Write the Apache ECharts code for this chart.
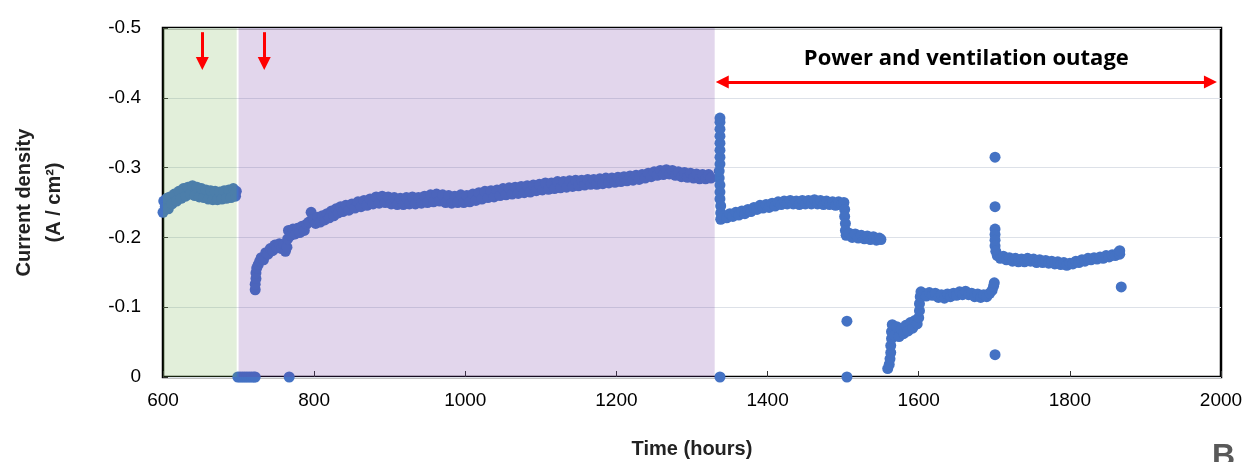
<!DOCTYPE html>
<html>
<head>
<meta charset="utf-8">
<script src="https://cdn.jsdelivr.net/npm/echarts@6/dist/echarts.min.js"></script>
<style>
  html, body { margin: 0; padding: 0; background: #fff; }
  #chart { width: 1250px; height: 462px; }
</style>
</head>
<body>
<div id="chart"></div>
<script>
// x ticks (hours) and y ticks (A/cm2)
var xTicks = [600, 800, 1000, 1200, 1400, 1600, 1800, 2000];
var yTicks = [-0.5, -0.4, -0.3, -0.2, -0.1, 0];

// shaded phases [start, end] in hours
var greenPhase = [600, 697.5];
var purplePhase = [700, 1330];
var outageSpan = [1340, 1986];
var arrowHours = [652, 734];

// [hours, current density]
var greenPts = [
  [600,-0.236],[601,-0.252],[603,-0.244],[605,-0.256],[607,-0.241],[609,-0.258],[612,-0.248],[615,-0.262],
  [618,-0.252],[621,-0.266],[624,-0.256],[627,-0.270],[630,-0.259],[633,-0.272],[636,-0.262],[639,-0.274],
  [642,-0.260],[645,-0.272],[648,-0.258],[651,-0.270],[654,-0.257],[657,-0.268],[660,-0.255],[663,-0.267],
  [666,-0.254],[669,-0.266],[672,-0.254],[675,-0.265],[678,-0.255],[681,-0.267],[684,-0.256],[687,-0.268],
  [690,-0.257],[693,-0.270],[696,-0.259],[697,-0.266]
];

var zeroPts = [
  [699,0],[702,0],[705,0],[708,0],[711,0],[714,0],[717,0],[720,0],[722,0],[767,0],
  [1337,0],[1505,0]
];

var purplePts = [
  [722,-0.125],[722,-0.133],[723,-0.141],[723,-0.149],[724,-0.156],[726,-0.161],[728,-0.166],[730,-0.171],
  [733,-0.168],[736,-0.178],[739,-0.176],[742,-0.184],[745,-0.181],[748,-0.189],[751,-0.185],[754,-0.191],
  [757,-0.184],[760,-0.190],[762,-0.180],[764,-0.186],[765,-0.198],[766,-0.210],[769,-0.203],[772,-0.212],
  [775,-0.205],[778,-0.213],[781,-0.207],[784,-0.216],[787,-0.210],[790,-0.219],[793,-0.222],[796,-0.236],
  [799,-0.226],[802,-0.220],[805,-0.229],[808,-0.222],[811,-0.231],[814,-0.225],[817,-0.234],[820,-0.228],
  [823,-0.238],[826,-0.231],[829,-0.241],[832,-0.235],[835,-0.244],[838,-0.237],[842,-0.246],[846,-0.239],
  [850,-0.248],[854,-0.242],[858,-0.251],[862,-0.244],[866,-0.253],[870,-0.246],[874,-0.255],[878,-0.248],
  [882,-0.258],[886,-0.249],[890,-0.259],[894,-0.250],[898,-0.258],[902,-0.248],[906,-0.257],[910,-0.247],
  [914,-0.256],[918,-0.247],[922,-0.257],[926,-0.248],[930,-0.258],[934,-0.248],[938,-0.257],[942,-0.249],
  [946,-0.259],[950,-0.250],[954,-0.261],[958,-0.251],[962,-0.262],[966,-0.252],[970,-0.261],[974,-0.250],
  [978,-0.260],[982,-0.249],[986,-0.259],[990,-0.250],[994,-0.261],[998,-0.250],[1002,-0.260],[1006,-0.251],
  [1010,-0.262],[1014,-0.253],[1018,-0.264],[1022,-0.255],[1026,-0.266],[1030,-0.257],[1034,-0.267],[1038,-0.258],
  [1042,-0.268],[1046,-0.260],[1050,-0.270],[1054,-0.261],[1058,-0.271],[1062,-0.262],[1066,-0.272],[1070,-0.263],
  [1074,-0.273],[1078,-0.264],[1082,-0.274],[1086,-0.265],[1090,-0.275],[1094,-0.267],[1098,-0.276],[1102,-0.268],
  [1106,-0.278],[1110,-0.269],[1114,-0.278],[1118,-0.270],[1122,-0.280],[1126,-0.271],[1130,-0.280],[1134,-0.272],
  [1138,-0.281],[1142,-0.273],[1146,-0.282],[1150,-0.274],[1154,-0.282],[1158,-0.275],[1162,-0.283],[1166,-0.276],
  [1170,-0.283],[1174,-0.276],[1178,-0.284],[1182,-0.277],[1186,-0.285],[1190,-0.278],[1194,-0.285],[1198,-0.279],
  [1202,-0.286],[1206,-0.280],[1210,-0.287],[1214,-0.281],[1218,-0.288],[1222,-0.282],[1226,-0.289],[1230,-0.283],
  [1234,-0.290],[1238,-0.285],[1242,-0.292],[1246,-0.287],[1250,-0.294],[1254,-0.289],[1258,-0.296],[1262,-0.290],
  [1266,-0.297],[1270,-0.291],[1274,-0.296],[1278,-0.289],[1282,-0.294],[1286,-0.287],[1290,-0.293],[1294,-0.286],
  [1298,-0.292],[1302,-0.285],[1306,-0.291],[1310,-0.284],[1314,-0.290],[1318,-0.284],[1322,-0.290],[1325,-0.285]
];

var outagePts1 = [
  [1336,-0.285],[1336,-0.295],[1337,-0.305],[1337,-0.315],[1337,-0.325],[1337,-0.335],[1337,-0.345],[1337,-0.355],
  [1337,-0.365],[1337,-0.371],[1337,-0.275],[1337,-0.265],[1337,-0.255],[1338,-0.245],[1338,-0.235],[1338,-0.226],
  [1342,-0.231],[1346,-0.228],[1350,-0.234],[1354,-0.230],[1358,-0.236],[1362,-0.232],[1366,-0.238],[1370,-0.234],
  [1374,-0.240],[1378,-0.237],[1382,-0.243],[1386,-0.240],[1390,-0.246],[1394,-0.242],[1398,-0.247],[1402,-0.243],
  [1406,-0.249],[1410,-0.245],[1414,-0.251],[1418,-0.247],[1422,-0.252],[1426,-0.248],[1430,-0.253],[1434,-0.248],
  [1438,-0.252],[1442,-0.247],[1446,-0.253],[1450,-0.248],[1454,-0.253],[1458,-0.248],[1462,-0.254],[1466,-0.248],
  [1470,-0.253],[1474,-0.247],[1478,-0.252],[1482,-0.247],[1486,-0.251],[1490,-0.246],[1494,-0.251],[1498,-0.247],
  [1501,-0.250],[1502,-0.240],[1502,-0.230],[1503,-0.220],[1503,-0.210],[1504,-0.203],[1508,-0.206],[1512,-0.200],
  [1516,-0.205],[1520,-0.199],[1524,-0.203],[1528,-0.198],[1532,-0.202],[1536,-0.197],[1540,-0.201],[1544,-0.196],
  [1548,-0.199],[1550,-0.197]
];

var outagePts2 = [
  [1559,-0.012],[1561,-0.018],[1562,-0.026],[1563,-0.035],[1563,-0.045],[1564,-0.055],[1564,-0.065],[1565,-0.075],
  [1568,-0.060],[1571,-0.072],[1574,-0.058],[1577,-0.068],[1580,-0.062],[1583,-0.074],[1586,-0.066],[1589,-0.078],
  [1592,-0.070],[1595,-0.081],[1598,-0.076],[1600,-0.085],[1601,-0.095],[1601,-0.105],[1602,-0.115],[1603,-0.122],
  [1606,-0.120],[1610,-0.116],[1614,-0.121],[1618,-0.117],[1622,-0.120],[1626,-0.114],[1630,-0.118],[1634,-0.113],
  [1638,-0.119],[1642,-0.115],[1646,-0.120],[1650,-0.117],[1654,-0.122],[1658,-0.118],[1662,-0.123],[1666,-0.118],
  [1670,-0.120],[1674,-0.115],[1678,-0.119],[1682,-0.114],[1686,-0.118],[1690,-0.115],[1694,-0.120],[1697,-0.124],
  [1699,-0.130],[1700,-0.135]
];

var outagePts3 = [
  [1701,-0.212],[1701,-0.204],[1701,-0.196],[1701,-0.188],[1702,-0.180],[1704,-0.174],[1708,-0.170],[1712,-0.173],
  [1716,-0.168],[1720,-0.171],[1724,-0.166],[1728,-0.170],[1732,-0.165],[1736,-0.169],[1740,-0.165],[1744,-0.170],
  [1748,-0.166],[1752,-0.169],[1756,-0.164],[1760,-0.168],[1764,-0.164],[1768,-0.167],[1772,-0.163],[1776,-0.166],
  [1780,-0.162],[1784,-0.165],[1788,-0.161],[1792,-0.164],[1796,-0.160],[1800,-0.163],[1804,-0.162],[1808,-0.166],
  [1812,-0.164],[1816,-0.168],[1820,-0.166],[1824,-0.170],[1828,-0.168],[1832,-0.171],[1836,-0.169],[1840,-0.172],
  [1844,-0.170],[1848,-0.174],[1852,-0.172],[1856,-0.175],[1860,-0.174],[1864,-0.178],[1866,-0.176],[1866,-0.181]
];

var outliers = [
  [1505,-0.080],[1701,-0.315],[1701,-0.244],[1701,-0.032],[1868,-0.129]
];

var allPts = [].concat(greenPts, zeroPts, purplePts, outagePts1, outagePts2, outagePts3, outliers);

var chart = echarts.init(document.getElementById('chart'));
var tickFont = { fontFamily: 'Liberation Sans', fontSize: 19, color: '#000' };

chart.setOption({
  backgroundColor: '#fff',
  animation: false,
  grid: { left: 163, right: 29, top: 28, bottom: 85, containLabel: false, outerBoundsMode: 'none',
          show: true, borderColor: '#000', borderWidth: 2.5, backgroundColor: 'transparent' },
  xAxis: {
    type: 'value', min: xTicks[0], max: xTicks[xTicks.length - 1], interval: 200,
    axisLine: { show: false },
    axisTick: { show: true, inside: true, length: 6, lineStyle: { color: '#333' } },
    splitLine: { show: false },
    axisLabel: Object.assign({ margin: 14, formatter: function (v) { return String(v); } }, tickFont),
    name: 'Time (hours)', nameLocation: 'middle', nameGap: 62,
    nameTextStyle: { fontFamily: 'Liberation Sans', fontSize: 20, fontWeight: 'bold', color: '#222' }
  },
  yAxis: {
    type: 'value', inverse: true, min: yTicks[0], max: yTicks[yTicks.length - 1], interval: 0.1,
    axisLine: { show: false },
    axisTick: { show: true, inside: true, length: 5, lineStyle: { color: '#333' } },
    splitLine: { show: true, lineStyle: { color: '#dde1e8', width: 1.2 } },
    axisLabel: Object.assign({ margin: 22 }, tickFont),
    name: 'Current density\n(A / cm²)', nameLocation: 'middle', nameGap: 94, nameRotate: 90,
    nameTextStyle: { fontFamily: 'Liberation Sans', fontSize: 20, fontWeight: 'bold', color: '#222', lineHeight: 30 }
  },
  series: [
    {
      type: 'scatter', z: 2, symbolSize: 11, silent: true,
      itemStyle: { color: '#4472C4', opacity: 1 },
      data: allPts
    },
    {
      // shaded phases sit on top of the points, like the tinted boxes in the original
      type: 'scatter', z: 5, symbolSize: 0, silent: true, data: [],
      markArea: {
        silent: true, z: 10,
        data: [
          [{ xAxis: greenPhase[0], yAxis: -0.5, itemStyle: { color: 'rgba(112,173,71,0.2)' } }, { xAxis: greenPhase[1], yAxis: 0 }],
          [{ xAxis: purplePhase[0], yAxis: -0.5, itemStyle: { color: 'rgba(112,48,160,0.2)' } }, { xAxis: purplePhase[1], yAxis: 0 }]
        ]
      },
      markLine: {
        silent: true, animation: false, z: 11,
        lineStyle: { color: '#ff0000', width: 3, type: 'solid' },
        symbolSize: [13, 13],
        data: [
          [{ coord: [arrowHours[0], -0.494], symbol: 'none' }, { coord: [arrowHours[0], -0.449], symbol: 'triangle' }],
          [{ coord: [arrowHours[1], -0.494], symbol: 'none' }, { coord: [arrowHours[1], -0.449], symbol: 'triangle' }],
          [{ coord: [outageSpan[0], -0.4226], symbol: 'triangle',
             label: { show: true, position: 'insideMiddleTop', distance: 12, formatter: 'Power and ventilation outage',
                      fontFamily: 'Open Sans', fontWeight: 'bold', fontSize: 22, color: '#000' } },
           { coord: [outageSpan[1], -0.4226], symbol: 'triangle' }]
        ],
        label: { show: false }
      }
    }
  ],
  graphic: [
    { type: 'text', left: 1212, top: 441, silent: true,
      style: { text: 'B', fontFamily: 'Liberation Sans', fontWeight: 'bold', fontSize: 32, fill: '#595959' } }
  ]
});
</script>
</body>
</html>
